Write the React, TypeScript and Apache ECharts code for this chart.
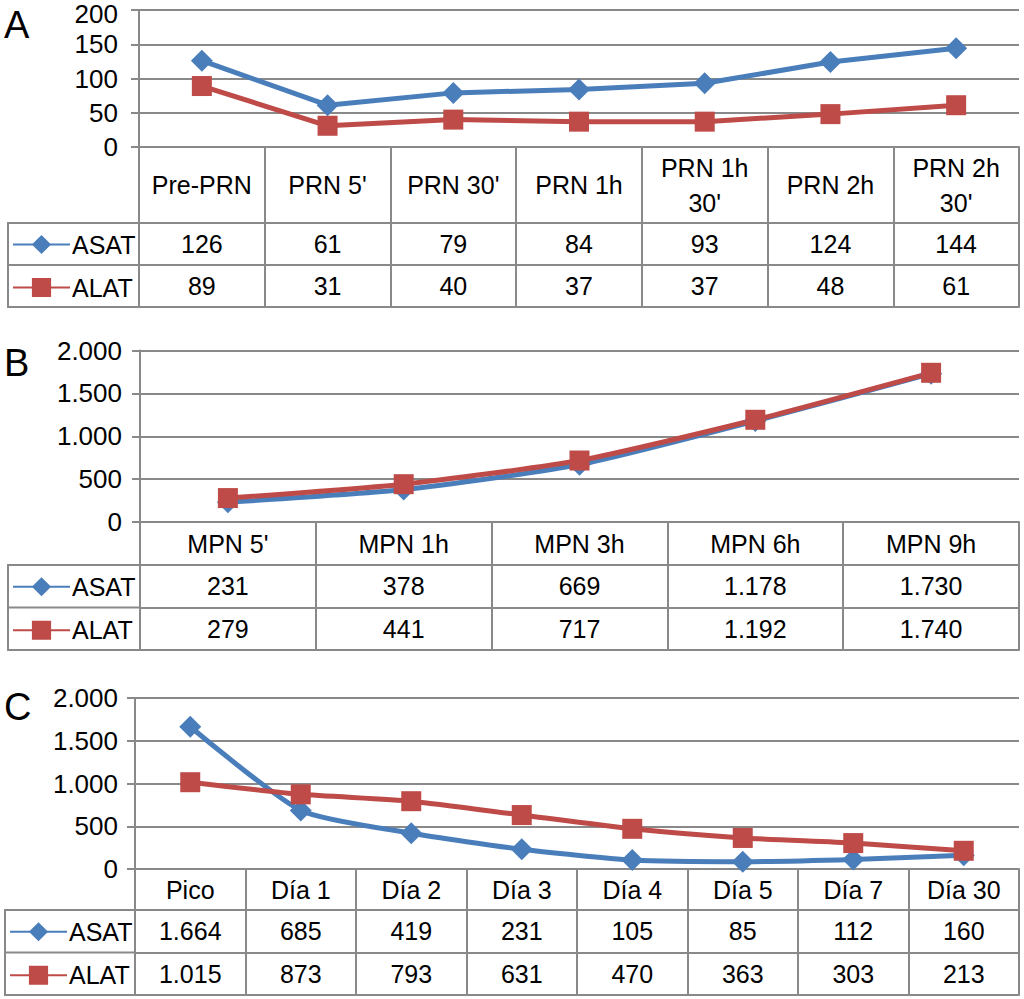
import React, { useEffect, useRef } from "react";
import * as echarts from "echarts";

// ---- Data ----
const catsA = ["Pre-PRN", "PRN 5'", "PRN 30'", "PRN 1h", "PRN 1h 30'", "PRN 2h", "PRN 2h 30'"];
const asatA = [126, 61, 79, 84, 93, 124, 144];
const alatA = [89, 31, 40, 37, 37, 48, 61];

const catsB = ["MPN 5'", "MPN 1h", "MPN 3h", "MPN 6h", "MPN 9h"];
const asatB = [231, 378, 669, 1178, 1730];
const alatB = [279, 441, 717, 1192, 1740];

const catsC = ["Pico", "Día 1", "Día 2", "Día 3", "Día 4", "Día 5", "Día 7", "Día 30"];
const asatC = [1664, 685, 419, 231, 105, 85, 112, 160];
const alatC = [1015, 873, 793, 631, 470, 363, 303, 213];

const yMaxA = 200;
const yStepA = 50;
const yMaxBC = 2000;
const yStepBC = 500;

const seriesNames = ["ASAT", "ALAT"];
const panelLetters = ["A", "B", "C"];

// ---- Styling ----
const FONT = '"Liberation Sans", Arial, Helvetica, sans-serif';
const GRAY = "#898989";
const BLUE = "#4A7EBB";
const RED = "#BE4B48";

const fmt = (v: number) => String(v).replace(/\B(?=(\d{3})+(?!\d))/g, ".");
const wrap = (v: string) => (v.length > 8 ? v.replace(/ (\S+)$/, "\n$1") : v);

export default function App() {
  const ref = useRef<HTMLDivElement>(null);

  useEffect(() => {
    if (!ref.current) return;
    const chart = echarts.init(ref.current, null, { renderer: "svg" });

    const panels = [
      { cats: catsA, asat: asatA, alat: alatA, max: yMaxA, step: yStepA, left: 139, top: 10, plotH: 137, headH: 76, rowH: 42, boxLeft: 8, legendLeft: 12, labelMargin: 21, letterY: 25, smooth: false, shiftTop: true },
      { cats: catsB, asat: asatB, alat: alatB, max: yMaxBC, step: yStepBC, left: 140, top: 350.5, plotH: 171.5, headH: 43, rowH: 42.5, boxLeft: 8, legendLeft: 12, labelMargin: 18, letterY: 363, smooth: 0.2, shiftTop: false },
      { cats: catsC, asat: asatC, alat: alatC, max: yMaxBC, step: yStepBC, left: 135, top: 698, plotH: 171, headH: 41, rowH: 42.5, boxLeft: 5, legendLeft: 9, labelMargin: 17, letterY: 707, smooth: 0.2, shiftTop: false },
    ];
    const RIGHT = 1019;

    const grid: any[] = [];
    const xAxis: any[] = [];
    const yAxis: any[] = [];
    const series: any[] = [];
    const legend: any[] = [];
    const graphic: any[] = [];

    panels.forEach((p, gi) => {
      grid.push({ left: p.left, width: RIGHT - p.left, top: p.top, height: p.plotH, containLabel: false, outerBoundsMode: "none" });
      yAxis.push({
        type: "value",
        gridIndex: gi,
        min: 0,
        max: p.max,
        interval: p.step,
        axisLine: { show: true, onZero: false, lineStyle: { color: GRAY, width: 2 } },
        axisTick: { show: true, length: 8, lineStyle: { color: GRAY, width: 2 } },
        splitLine: { show: true, lineStyle: { color: GRAY, width: 2 } },
        axisLabel: {
          formatter: (v: number) => (p.shiftTop && v === p.max ? `{t|${fmt(v)}}` : fmt(v)),
          rich: { t: { fontSize: 26, lineHeight: 20, fontFamily: FONT, color: "#000", padding: [8, 0, 0, 0] } },
          fontSize: 26,
          lineHeight: 20,
          fontFamily: FONT,
          color: "#000",
          margin: p.labelMargin,
        },
      });
      const base = xAxis.length;
      const tableH = p.headH + 2 * p.rowH;
      // category header row
      xAxis.push({
        type: "category",
        gridIndex: gi,
        position: "bottom",
        data: p.cats,
        boundaryGap: true,
        axisLine: { show: true, onZero: false, lineStyle: { color: GRAY, width: 2 } },
        axisTick: { show: true, length: tableH, interval: 0, lineStyle: { color: GRAY, width: 2 } },
        axisLabel: {
          interval: 0,
          formatter: (v: string) => wrap(v),
          fontSize: 25,
          lineHeight: 35,
          fontFamily: FONT,
          color: "#000",
          verticalAlign: "middle",
          margin: p.headH / 2,
        },
      });
      // value rows
      [p.asat, p.alat].forEach((vals, ri) => {
        xAxis.push({
          type: "category",
          gridIndex: gi,
          position: "bottom",
          offset: p.headH + ri * p.rowH,
          data: p.cats,
          boundaryGap: true,
          axisLine: { show: true, onZero: false, lineStyle: { color: GRAY, width: 2 } },
          axisTick: { show: false },
          axisLabel: {
            interval: 0,
            formatter: (_: string, i: number) => fmt(vals[i]),
            fontSize: 25,
            fontFamily: FONT,
            color: "#000",
            verticalAlign: "middle",
            margin: p.rowH / 2,
          },
        });
      });
      // bottom border
      xAxis.push({
        type: "category",
        gridIndex: gi,
        position: "bottom",
        offset: tableH,
        data: p.cats,
        boundaryGap: true,
        axisLine: { show: true, onZero: false, lineStyle: { color: GRAY, width: 2 } },
        axisTick: { show: false },
        axisLabel: { show: false },
      });

      series.push({
        name: seriesNames[0],
        type: "line",
        xAxisIndex: base,
        yAxisIndex: gi,
        data: p.asat,
        smooth: p.smooth,
        symbol: "diamond",
        symbolSize: 22,
        lineStyle: { color: BLUE, width: 5 },
        itemStyle: { color: BLUE },
      });
      series.push({
        name: seriesNames[1],
        type: "line",
        xAxisIndex: base,
        yAxisIndex: gi,
        data: p.alat,
        smooth: p.smooth,
        symbol: "rect",
        symbolSize: 20,
        lineStyle: { color: RED, width: 5 },
        itemStyle: { color: RED },
      });

      const tableTop = p.top + p.plotH + p.headH;
      legend.push({
        data: seriesNames,
        orient: "vertical",
        left: p.legendLeft,
        top: tableTop + p.rowH / 2 - 12,
        itemWidth: 57,
        itemHeight: 24,
        itemGap: p.rowH - 24,
        padding: 0,
        selectedMode: false,
        textStyle: { fontSize: 25, fontFamily: FONT, color: "#000", padding: [0, 0, 0, -3] },
      });

      graphic.push({
        type: "rect",
        shape: { x: p.boxLeft, y: tableTop, width: p.left - p.boxLeft, height: 2 * p.rowH },
        style: { fill: "none", stroke: GRAY, lineWidth: 2 },
        z: 1,
      });
      graphic.push({
        type: "line",
        shape: { x1: p.boxLeft, y1: tableTop + p.rowH, x2: p.left, y2: tableTop + p.rowH },
        style: { stroke: GRAY, lineWidth: 2 },
        z: 1,
      });
      graphic.push({
        type: "text",
        x: 4,
        y: p.letterY,
        style: { text: panelLetters[gi], fontSize: 38, fontFamily: FONT, fill: "#000", verticalAlign: "middle", align: "left" },
      });
    });

    chart.setOption({
      animation: false,
      backgroundColor: "#fff",
      grid,
      xAxis,
      yAxis,
      series,
      legend,
      graphic,
    });

    return () => chart.dispose();
  }, []);

  return <div ref={ref} style={{ position: "absolute", left: 0, top: 0, width: 1024, height: 999 }} />;
}
